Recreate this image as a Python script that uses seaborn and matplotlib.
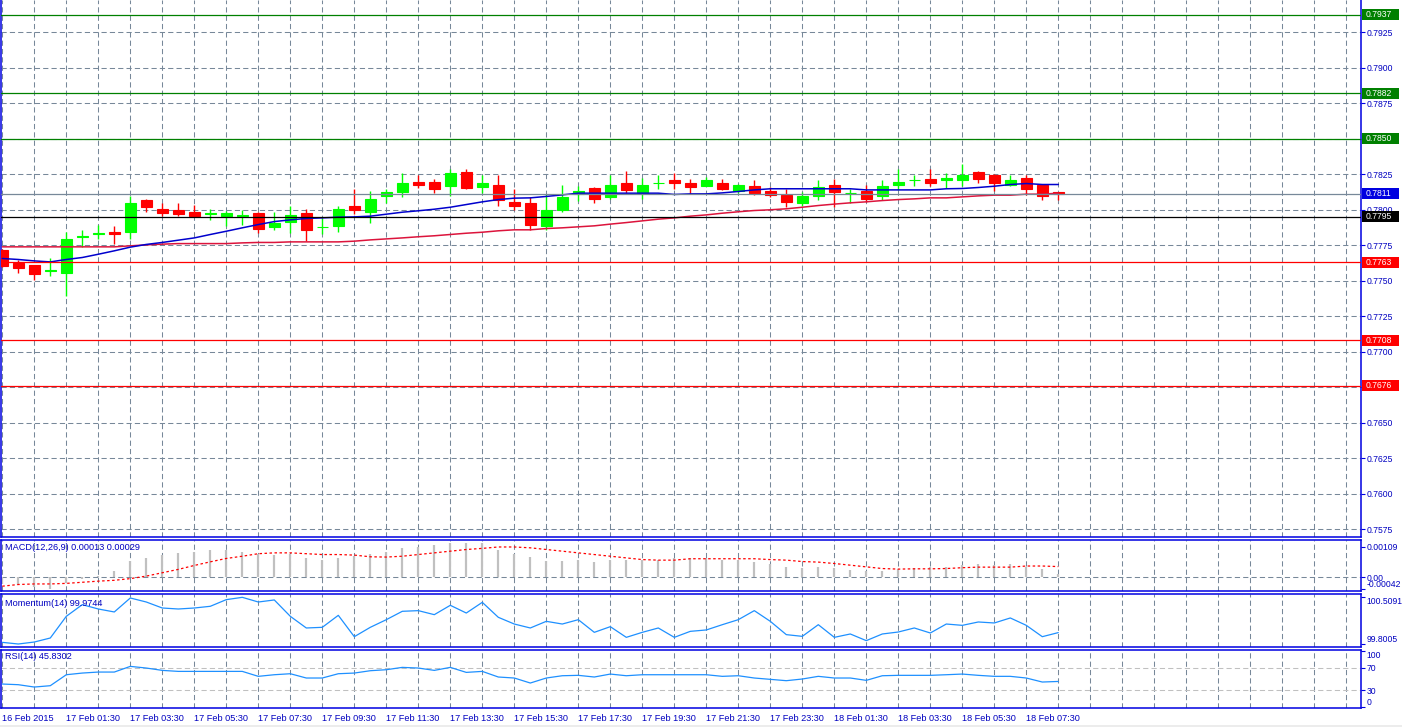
import numpy as np
import matplotlib
matplotlib.use("Agg")
import matplotlib.pyplot as plt
from matplotlib.patches import Rectangle
from matplotlib.transforms import blended_transform_factory
import seaborn as sns

# ---------------- data ----------------
opens = [0.77714, 0.77624, 0.77606, 0.77568, 0.77552, 0.77808, 0.77828, 0.77840, 0.77840, 0.78070,
         0.78007, 0.78000, 0.77981, 0.77970, 0.77953, 0.77956, 0.77972, 0.77876, 0.77911, 0.77972,
         0.77876, 0.77883, 0.78028, 0.77981, 0.78094, 0.78122, 0.78197, 0.78197, 0.78164, 0.78265,
         0.78162, 0.78176, 0.78056, 0.78049, 0.77883, 0.78000, 0.78108, 0.78148, 0.78087, 0.78190,
         0.78115, 0.78186, 0.78211, 0.78190, 0.78169, 0.78190, 0.78131, 0.78169, 0.78127, 0.78101,
         0.78045, 0.78094, 0.78176, 0.78113, 0.78127, 0.78094, 0.78171, 0.78205, 0.78218, 0.78207,
         0.78211, 0.78265, 0.78244, 0.78174, 0.78223, 0.78171, 0.78122]
highs = [0.77720, 0.77643, 0.77610, 0.77662, 0.77840, 0.77859, 0.77892, 0.77883, 0.78094, 0.78077,
         0.78047, 0.78049, 0.78035, 0.78007, 0.77988, 0.78000, 0.77981, 0.77981, 0.78028, 0.78005,
         0.77941, 0.78028, 0.78146, 0.78127, 0.78146, 0.78258, 0.78244, 0.78216, 0.78282, 0.78286,
         0.78244, 0.78240, 0.78146, 0.78089, 0.78106, 0.78176, 0.78164, 0.78155, 0.78242, 0.78268,
         0.78223, 0.78244, 0.78258, 0.78216, 0.78230, 0.78216, 0.78183, 0.78211, 0.78155, 0.78141,
         0.78122, 0.78211, 0.78218, 0.78141, 0.78176, 0.78211, 0.78282, 0.78244, 0.78282, 0.78258,
         0.78317, 0.78268, 0.78248, 0.78244, 0.78240, 0.78175, 0.78125]
lows = [0.77595, 0.77552, 0.77502, 0.77535, 0.77394, 0.77737, 0.77789, 0.77754, 0.77793, 0.77981,
        0.77953, 0.77953, 0.77948, 0.77923, 0.77883, 0.77894, 0.77833, 0.77854, 0.77836, 0.77777,
        0.77824, 0.77840, 0.77965, 0.77906, 0.78047, 0.78087, 0.78148, 0.78115, 0.78094, 0.78141,
        0.78113, 0.78023, 0.77995, 0.77859, 0.77854, 0.77981, 0.78059, 0.78045, 0.78073, 0.78115,
        0.78073, 0.78143, 0.78146, 0.78106, 0.78164, 0.78134, 0.78115, 0.78101, 0.78087, 0.78016,
        0.78028, 0.78066, 0.78016, 0.78047, 0.78052, 0.78066, 0.78136, 0.78169, 0.78164, 0.78148,
        0.78169, 0.78190, 0.78129, 0.78169, 0.78101, 0.78066, 0.78066]
closes = [0.77600, 0.77587, 0.77545, 0.77572, 0.77789, 0.77815, 0.77832, 0.77826, 0.78049, 0.78016,
          0.77972, 0.77965, 0.77953, 0.77974, 0.77972, 0.77960, 0.77862, 0.77908, 0.77958, 0.77854,
          0.77880, 0.78007, 0.77995, 0.78077, 0.78120, 0.78190, 0.78171, 0.78143, 0.78260, 0.78148,
          0.78190, 0.78066, 0.78028, 0.77894, 0.78000, 0.78089, 0.78127, 0.78073, 0.78176, 0.78136,
          0.78176, 0.78190, 0.78190, 0.78162, 0.78211, 0.78141, 0.78176, 0.78115, 0.78101, 0.78052,
          0.78092, 0.78155, 0.78122, 0.78117, 0.78073, 0.78169, 0.78197, 0.78209, 0.78190, 0.78223,
          0.78244, 0.78218, 0.78190, 0.78211, 0.78141, 0.78094, 0.78110]

ma_fast = [0.77655, 0.77648, 0.77638, 0.77631, 0.77648, 0.77662, 0.77685, 0.77709, 0.77735, 0.77754,
           0.77768, 0.77784, 0.77800, 0.77824, 0.77847, 0.77871, 0.77894, 0.77915, 0.77927, 0.77937,
           0.77941, 0.77946, 0.77948, 0.77953, 0.77967, 0.77981, 0.77991, 0.78002, 0.78016, 0.78035,
           0.78054, 0.78070, 0.78080, 0.78082, 0.78092, 0.78103, 0.78115, 0.78115, 0.78115, 0.78115,
           0.78115, 0.78115, 0.78106, 0.78110, 0.78110, 0.78117, 0.78127, 0.78138, 0.78146, 0.78146,
           0.78146, 0.78146, 0.78146, 0.78146, 0.78138, 0.78138, 0.78138, 0.78138, 0.78138, 0.78146,
           0.78148, 0.78155, 0.78164, 0.78176, 0.78183, 0.78176, 0.78176]
ma_slow = [0.77737, 0.77737, 0.77737, 0.77737, 0.77737, 0.77737, 0.77737, 0.77737, 0.77744, 0.77751,
           0.77756, 0.77760, 0.77760, 0.77760, 0.77760, 0.77765, 0.77768, 0.77768, 0.77772, 0.77772,
           0.77772, 0.77772, 0.77777, 0.77786, 0.77793, 0.77800, 0.77808, 0.77815, 0.77824, 0.77833,
           0.77840, 0.77850, 0.77857, 0.77857, 0.77866, 0.77871, 0.77878, 0.77885, 0.77897, 0.77908,
           0.77920, 0.77932, 0.77941, 0.77953, 0.77962, 0.77974, 0.77984, 0.77993, 0.77998, 0.78005,
           0.78016, 0.78028, 0.78038, 0.78047, 0.78054, 0.78063, 0.78070, 0.78075, 0.78082, 0.78082,
           0.78089, 0.78096, 0.78101, 0.78101, 0.78108, 0.78108, 0.78115]

macd_main = [-0.00024, -0.00026, -0.00036, -0.00041, -0.00020, -0.00005, 0.00006, 0.00024, 0.00057, 0.00069,
             0.00079, 0.00087, 0.00091, 0.00096, 0.00096, 0.00091, 0.00084, 0.00079, 0.00084, 0.00067,
             0.00063, 0.00067, 0.00075, 0.00084, 0.00091, 0.00103, 0.00108, 0.00115, 0.00123, 0.00123,
             0.00123, 0.00099, 0.00084, 0.00072, 0.00057, 0.00057, 0.00060, 0.00056, 0.00060, 0.00061,
             0.00062, 0.00062, 0.00067, 0.00068, 0.00069, 0.00062, 0.00060, 0.00055, 0.00048, 0.00037,
             0.00032, 0.00036, 0.00032, 0.00026, 0.00022, 0.00024, 0.00031, 0.00034, 0.00036, 0.00038,
             0.00043, 0.00048, 0.00043, 0.00046, 0.00038, 0.00028, 0.00013]
macd_signal = [-0.00032, -0.00026, -0.00024, -0.00024, -0.00022, -0.00018, -0.00014, -0.00011, -0.00005, 0.00004,
               0.00016, 0.00028, 0.00042, 0.00055, 0.00067, 0.00075, 0.00084, 0.00087, 0.00087, 0.00084,
               0.00081, 0.00081, 0.00079, 0.00073, 0.00072, 0.00075, 0.00081, 0.00087, 0.00093, 0.00099,
               0.00103, 0.00108, 0.00108, 0.00105, 0.00099, 0.00093, 0.00087, 0.00081, 0.00075, 0.00069,
               0.00063, 0.00061, 0.00061, 0.00066, 0.00066, 0.00066, 0.00066, 0.00066, 0.00063, 0.00061,
               0.00056, 0.00054, 0.00049, 0.00043, 0.00037, 0.00031, 0.00029, 0.00030, 0.00030, 0.00031,
               0.00034, 0.00036, 0.00036, 0.00036, 0.00040, 0.00040, 0.00038]
momentum = [99.826, 99.801, 99.831, 99.892, 100.221, 100.398, 100.332, 100.287, 100.499, 100.438,
            100.347, 100.332, 100.347, 100.373, 100.474, 100.509, 100.438, 100.469, 100.221, 100.044,
            100.054, 100.236, 99.912, 100.054, 100.170, 100.297, 100.307, 100.246, 100.388, 100.271,
            100.433, 100.206, 100.104, 100.044, 100.145, 100.104, 100.170, 99.978, 100.064, 99.902,
            99.978, 100.044, 99.902, 99.993, 100.014, 100.094, 100.170, 100.307, 100.145, 99.943,
            99.917, 100.094, 99.902, 99.953, 99.852, 99.953, 99.983, 100.044, 99.968, 100.104,
            100.084, 100.135, 100.120, 100.196, 100.084, 99.912, 99.974]
rsi = [41.2, 40.0, 35.8, 38.2, 57.9, 60.9, 62.7, 62.7, 72.9, 69.9,
       65.7, 63.9, 63.9, 63.9, 63.9, 63.9, 55.0, 57.9, 59.7, 52.0,
       52.0, 59.7, 60.9, 65.1, 66.9, 71.1, 69.9, 65.7, 71.1, 62.1,
       63.9, 53.8, 52.0, 43.0, 52.0, 56.1, 56.8, 53.8, 59.1, 56.1,
       57.9, 57.9, 57.9, 57.9, 57.9, 55.0, 56.1, 52.0, 49.6, 47.2,
       50.2, 55.0, 52.0, 52.0, 47.8, 56.1, 56.8, 56.8, 56.8, 57.9,
       59.1, 56.8, 55.0, 55.0, 52.0, 44.8, 45.83]

time_labels = ["16 Feb 2015", "17 Feb 01:30", "17 Feb 03:30", "17 Feb 05:30", "17 Feb 07:30",
               "17 Feb 09:30", "17 Feb 11:30", "17 Feb 13:30", "17 Feb 15:30", "17 Feb 17:30",
               "17 Feb 19:30", "17 Feb 21:30", "17 Feb 23:30", "18 Feb 01:30", "18 Feb 03:30",
               "18 Feb 05:30", "18 Feb 07:30"]
label_bars = list(range(0, 65, 4))
price_ticks = [0.7575, 0.7600, 0.7625, 0.7650, 0.7675, 0.7700, 0.7725, 0.7750, 0.7775,
               0.7800, 0.7825, 0.7850, 0.7875, 0.7900, 0.7925]
level_prices = [0.7937, 0.7882, 0.7850, 0.7811, 0.7795, 0.7763, 0.7708, 0.7676]
macd_ticks = [0.00109, 0.0, -0.00042]
macd_tick_labels = ["0.00109", "0.00", "-0.00042"]
mom_ticks = [100.5091, 99.8005]
rsi_ticks = [100, 70, 30, 0]
title_macd = "MACD(12,26,9) 0.00013 0.00029"
title_mom = "Momentum(14) 99.9744"
title_rsi = "RSI(14) 45.8302"

# ---------------- styling ----------------
level_line_colors = ['#008000', '#008000', '#008000', '#778899', '#000000', '#ff0000', '#ff0000', '#ff0000']
level_box_colors = ['#008000', '#008000', '#008000', '#0000e0', '#000000', '#ff0000', '#ff0000', '#ff0000']

sns.set_style("white")
plt.rcParams["font.family"] = ["Liberation Sans", "DejaVu Sans"]

W, H = 1402, 727
fig = plt.figure(figsize=(W / 100, H / 100), dpi=100)
fig.patch.set_facecolor("white")

AXC = "#0000e0"
TXT = "#0000c0"
GRID = "#778899"
FS = 6.6      # titles, time labels
FSR = 6.2     # right-hand value labels
DASH = (0, (5, 3))

n = len(closes)
idx = np.arange(n)
BAR_X0, BAR_DX = 2.3, 16.0
AX_L, AX_R = 1.0, 1361.0
xlim = ((AX_L - BAR_X0) / BAR_DX, (AX_R - BAR_X0) / BAR_DX)


def pax(y0, y1):
    return fig.add_axes([AX_L / W, 1 - y1 / H, (AX_R - AX_L) / W, (y1 - y0) / H])


MAIN_Y = (0, 536.7)
ax = pax(*MAIN_Y)
m1 = pax(539.7, 591.0)
m2 = pax(593.7, 647.3)
m3 = pax(650.0, 707.7)

for a in (ax, m1, m2, m3):
    a.set_facecolor("white")
    for s in a.spines.values():
        s.set_color(AXC)
        s.set_linewidth(1.1)
    for i in range(0, int(xlim[1]) + 1, 2):
        a.axvline(i, color=GRID, lw=0.75, ls=DASH, zorder=0.5)
ax.spines["top"].set_visible(False)

# ---------------- main price panel ----------------
main_ylim = (0.756958, 0.794754)
for p in price_ticks:
    ax.axhline(p, color=GRID, lw=0.75, ls=DASH, zorder=0.5)

o = np.array(opens); c = np.array(closes)
colors = np.where(c >= o, "#00ff00", "#ff0000")
ax.vlines(idx, lows, highs, colors=colors, lw=1.0, zorder=3)
ax.bar(idx, np.abs(c - o), bottom=np.minimum(o, c), width=0.69, color=colors,
       edgecolor=colors, linewidth=0.8, zorder=3.5)
sns.lineplot(x=idx, y=ma_slow, ax=ax, color="#dc143c", lw=1.1, zorder=4)
sns.lineplot(x=idx, y=ma_fast, ax=ax, color="#0000cd", lw=1.1, zorder=4)

ax.set_xlim(*xlim)
ax.set_ylim(*main_ylim)
ax.set_xlabel(""); ax.set_ylabel("")
ax.set_xticks([])
ax.yaxis.tick_right()
ax.set_yticks(price_ticks, labels=[f"{p:.4f}" for p in price_ticks])
ax.tick_params(axis="y", direction="out", length=3, width=0.8, color=AXC,
               labelcolor=TXT, labelsize=FSR, pad=1.0)

tr = blended_transform_factory(fig.transFigure, ax.transData)
ppp = (main_ylim[1] - main_ylim[0]) / (MAIN_Y[1] - MAIN_Y[0])
for p, lc, bc in zip(level_prices, level_line_colors, level_box_colors):
    ax.axhline(p, color=lc, lw=0.9, zorder=5)
    ax.add_patch(Rectangle((1362 / W, p - 5.5 * ppp), 37 / W, 11 * ppp, transform=tr,
                           facecolor=bc, edgecolor="none", clip_on=False, zorder=10))
    ax.text(1366 / W, p, f"{p:.4f}", transform=tr, color="white", fontsize=FSR,
            va="center", ha="left", zorder=11, clip_on=False)

# ---------------- MACD ----------------
m1.axhline(0, color=GRID, lw=0.75, ls=DASH, zorder=0.5)
m1.vlines(idx, 0, macd_main, color="#c0c0c0", lw=1.6, zorder=2)
sns.lineplot(x=idx, y=macd_signal, ax=m1, color="#ff0000", lw=0.9, linestyle=(0, (2, 2)), zorder=3)
m1.set_xlim(*xlim)
m1.set_ylim(-0.000492, 0.00134)
m1.set_xticks([])
m1.set_xlabel(""); m1.set_ylabel("")
m1.yaxis.tick_right()
m1.set_yticks(macd_ticks, labels=macd_tick_labels)
m1.text(4 / 1360, 0.84, title_macd, transform=m1.transAxes, fontsize=FS, color=TXT, va="center")

# ---------------- Momentum ----------------
sns.lineplot(x=idx, y=momentum, ax=m2, color="#1e90ff", lw=0.9, zorder=3)
m2.set_xlim(*xlim)
m2.set_ylim(99.751, 100.564)
m2.set_xticks([])
m2.set_xlabel(""); m2.set_ylabel("")
m2.yaxis.tick_right()
m2.set_yticks(mom_ticks, labels=[f"{v:.4f}" for v in mom_ticks])
m2.text(4 / 1360, 0.826, title_mom, transform=m2.transAxes, fontsize=FS, color=TXT, va="center")

# ---------------- RSI ----------------
for lvl in (70, 30):
    m3.axhline(lvl, color="#c0c0c0", lw=0.75, ls=DASH, zorder=0.5)
sns.lineplot(x=idx, y=rsi, ax=m3, color="#1e90ff", lw=0.9, zorder=3)
m3.set_xlim(*xlim)
m3.set_ylim(-1.3, 102.3)
m3.set_xlabel(""); m3.set_ylabel("")
m3.yaxis.tick_right()
m3.set_yticks(rsi_ticks, labels=[str(v) for v in rsi_ticks])
m3.text(4 / 1360, 0.879, title_rsi, transform=m3.transAxes, fontsize=FS, color=TXT, va="center")
m3.set_xticks(label_bars, labels=time_labels)
for t in m3.get_xticklabels():
    t.set_ha("left")
m3.tick_params(axis="x", direction="out", length=3, width=0.8, color=AXC,
               labelcolor=TXT, labelsize=FS, pad=1.5)

for a in (m1, m2, m3):
    a.tick_params(axis="y", direction="out", length=3, width=0.8, color=AXC,
                  labelcolor=TXT, labelsize=FSR, pad=1.0)


def align_extremes(a, top_idx=None, bottom_idx=None):
    ticks = a.yaxis.get_major_ticks()
    if top_idx is not None:
        ticks[top_idx].label2.set_va("top")
    if bottom_idx is not None:
        ticks[bottom_idx].label2.set_va("bottom")


align_extremes(m1, bottom_idx=2)
align_extremes(m2, top_idx=0, bottom_idx=1)
align_extremes(m3, top_idx=0, bottom_idx=3)

fig.add_artist(Rectangle((0, 0), 1, 2.5 / H, transform=fig.transFigure,
                         facecolor="#ececec", edgecolor="none"))

fig.savefig("out.png", dpi=100)
